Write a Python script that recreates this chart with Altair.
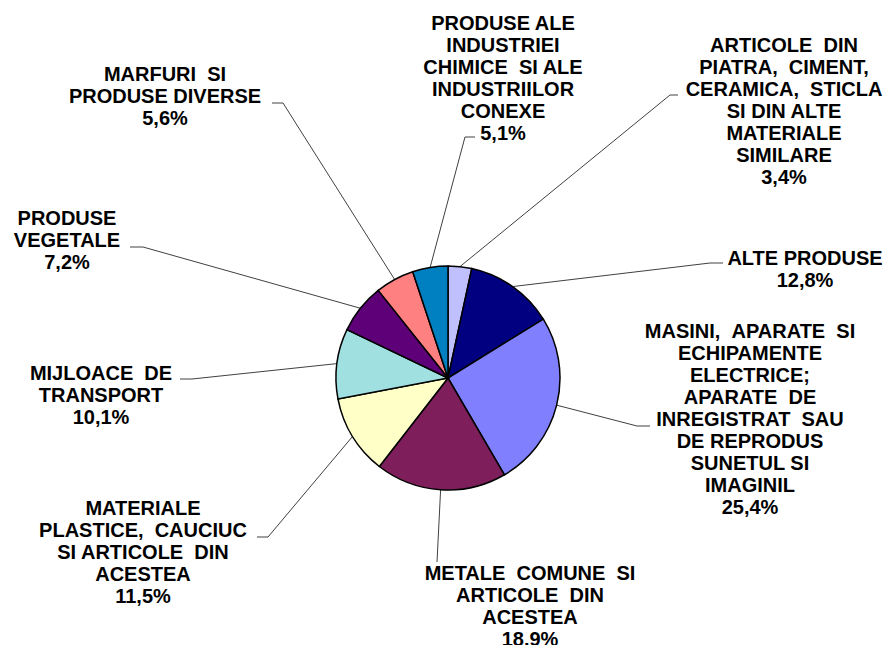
import math
import altair as alt
import pandas as pd

# ---- data (clockwise from 12 o'clock) ----
categories = [
    "ARTICOLE  DIN\nPIATRA,  CIMENT,\nCERAMICA,  STICLA\nSI DIN ALTE\nMATERIALE\nSIMILARE",
    "ALTE PRODUSE",
    "MASINI,  APARATE  SI\nECHIPAMENTE\nELECTRICE;\nAPARATE  DE\nINREGISTRAT  SAU\nDE REPRODUS\nSUNETUL SI\nIMAGINIL",
    "METALE  COMUNE  SI\nARTICOLE  DIN\nACESTEA",
    "MATERIALE\nPLASTICE,  CAUCIUC\nSI ARTICOLE  DIN\nACESTEA",
    "MIJLOACE  DE\nTRANSPORT",
    "PRODUSE\nVEGETALE",
    "MARFURI  SI\nPRODUSE DIVERSE",
    "PRODUSE ALE\nINDUSTRIEI\nCHIMICE  SI ALE\nINDUSTRIILOR\nCONEXE",
]
values = [3.4, 12.8, 25.4, 18.9, 11.5, 10.1, 7.2, 5.6, 5.1]
pct_labels = ["3,4%", "12,8%", "25,4%", "18.9%", "11,5%", "10,1%", "7,2%", "5,6%", "5,1%"]

# ---- style / layout ----
colors = ["#C0C0FF", "#000080", "#8080FF", "#7E1F5C", "#FFFFC8",
          "#A0E0E0", "#5E0078", "#FF8080", "#0080C0"]
W, H = 877, 637
CX, CY, R = 440, 370, 112
FS, LH = 20, 22
# label block centre x and first-line centre y (chart coords)
label_x = [776, 797, 742, 522, 135, 93, 59, 157, 495]
label_y = [37, 250, 323, 565, 500, 365, 210, 66, 15]
# leader line: start of short horizontal tick and its elbow (chart coords)
lead_start = [(670, 87), (715, 255), (642, 418), (429, 554), (249, 529),
              (172, 371), (122, 239), (264, 95), (467, 129)]
lead_elbow = [(662, 87), (702, 255), (629, 418), (429, 554), (260, 529),
              (184, 371), (135, 239), (275, 95), (457, 129)]

cat_ids = [f"c{i}" for i in range(len(values))]
pie_df = pd.DataFrame({"cat": cat_ids, "value": values, "idx": list(range(len(values)))})

# leader lines: computed edge point at slice mid-angle
rows = []
cum = 0.0
total = sum(values)
for i, v in enumerate(values):
    a = 2 * math.pi * (cum + v / 2) / total
    cum += v
    ex = CX + R * math.sin(a)
    ey = CY - R * math.cos(a)
    pts = [lead_start[i], lead_elbow[i], (ex, ey)]
    for k, (px, py) in enumerate(pts):
        rows.append({"cat": cat_ids[i], "k": k, "px": px, "py": py})
lead_df = pd.DataFrame(rows)

lab_df = pd.DataFrame({
    "cat": cat_ids,
    "txt": [(c + "\n" + p).replace("  ", " \u00a0") for c, p in zip(categories, pct_labels)],
    "lx": label_x,
    "ly": [y + 7 for y in label_y],
})

xs = alt.Scale(domain=[0, W], nice=False, zero=False)
ys = alt.Scale(domain=[0, H], nice=False, zero=False, reverse=True)

lines = alt.Chart(lead_df).mark_line(color="#404040", strokeWidth=1).encode(
    x=alt.X("px:Q", scale=xs, axis=None),
    y=alt.Y("py:Q", scale=ys, axis=None),
    detail="cat:N",
    order="k:Q",
)

pie = alt.Chart(pie_df).mark_arc(outerRadius=R, stroke="black", strokeWidth=1.5).encode(
    theta=alt.Theta("value:Q", stack=True),
    color=alt.Color("cat:N", scale=alt.Scale(domain=cat_ids, range=colors), legend=None),
    order=alt.Order("idx:Q"),
    x=alt.value(CX),
    y=alt.value(CY),
)

texts = alt.Chart(lab_df).mark_text(
    font="Liberation Sans", fontWeight="bold", fontSize=FS, lineHeight=LH,
    lineBreak="\n", align="center", baseline="alphabetic", color="black",
).encode(
    x=alt.X("lx:Q", scale=xs, axis=None),
    y=alt.Y("ly:Q", scale=ys, axis=None),
    text="txt:N",
)

chart = alt.layer(lines, pie, texts).properties(
    width=W, height=H, autosize=alt.AutoSizeParams(type="none"), padding=0,
    background="white",
).configure_view(stroke=None)

chart.save("out.html", embed_options={"renderer": "svg", "actions": False})
